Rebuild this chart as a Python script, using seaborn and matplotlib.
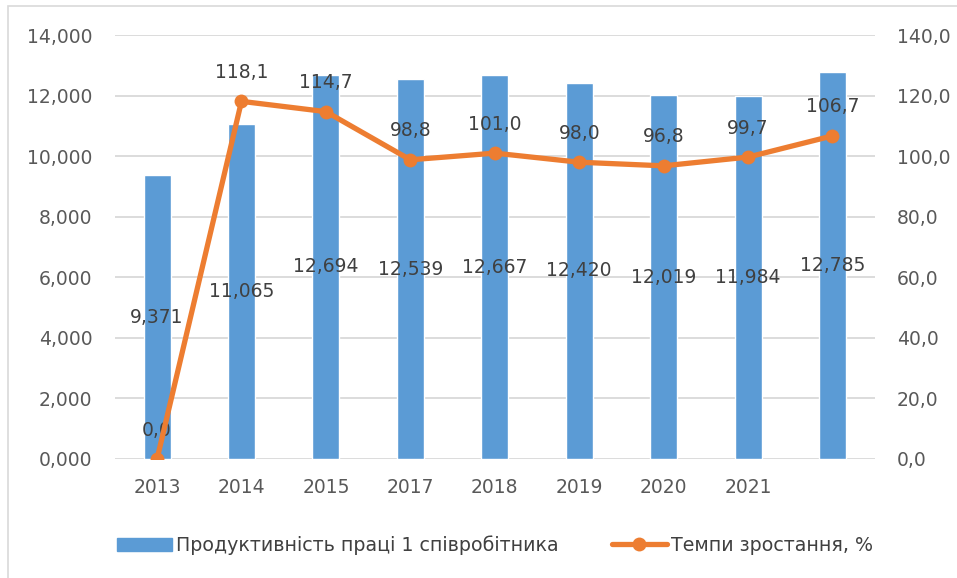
import numpy as np
import pandas as pd
import matplotlib
matplotlib.use('Agg')
import matplotlib.pyplot as plt
import seaborn as sns
from matplotlib.patches import Rectangle
from matplotlib.lines import Line2D

sns.set_style('white')
plt.rcParams['font.family'] = ['DejaVu Sans']

# data
years = ['2013', '2014', '2015', '2017', '2018', '2019', '2020', '2021', '']
productivity = [9.371, 11.065, 12.694, 12.539, 12.667, 12.420, 12.019, 11.984, 12.785]
growth = [0.0, 118.1, 114.7, 98.8, 101.0, 98.0, 96.8, 99.7, 106.7]

bar_name = 'Продуктивність праці 1 співробітника'
line_name = 'Темпи зростання, %'

df = pd.DataFrame({'year': years, 'prod': productivity, 'growth': growth})

blue = '#5B9BD5'
orange = '#ED7D31'
grid_c = '#D9D9D9'
tick_c = '#595959'
lab_c = '#404040'

fig, ax = plt.subplots(figsize=(9.57, 5.78), dpi=100)
fig.subplots_adjust(left=0.120, right=0.914, top=0.9394, bottom=0.2059)

# bars on the left axis
sns.barplot(data=df, x='year', y='prod', order=years, color=blue,
            width=0.32, saturation=1, ax=ax)
ax.set_ylim(0, 14)
ax.set_yticks(np.arange(0, 15, 2))
ax.set_yticklabels([f'{v},000' for v in range(0, 15, 2)])
ax.set_xlim(-0.5, len(years) - 0.5)
ax.grid(axis='y', color=grid_c, lw=1.3)
ax.set_axisbelow(True)
ax.set_xlabel('')
ax.set_ylabel('')
ax.tick_params(axis='y', length=0, pad=16, labelsize=13.5, labelcolor=tick_c)
ax.tick_params(axis='x', length=0, pad=14, labelsize=13.5, labelcolor=tick_c)
for s in ax.spines.values():
    s.set_visible(False)

ax.bar_label(ax.containers[0], labels=[f'{v:.3f}'.replace('.', ',') for v in productivity],
             label_type='center', fontsize=13.5, color=lab_c)

# growth line on the right axis
ax2 = ax.twinx()
sns.lineplot(x=np.arange(len(years)), y=growth, color=orange, lw=3.8,
             marker='o', markersize=10, markeredgewidth=0, ax=ax2, zorder=5)
ax2.set_ylim(0, 140)
ax2.set_yticks(np.arange(0, 141, 20))
ax2.set_yticklabels([f'{v},0' for v in range(0, 141, 20)])
ax2.tick_params(axis='y', length=0, pad=16, labelsize=13.5, labelcolor=tick_c)
for s in ax2.spines.values():
    s.set_visible(False)
ax2.grid(False)
for i, g in enumerate(growth):
    ax2.annotate(f'{g:.1f}'.replace('.', ','), (i, g), xytext=(0, 14),
                 textcoords='offset points', ha='center', va='bottom',
                 fontsize=13.5, color=lab_c)

handles = [Rectangle((0, 0), 1, 1, color=blue),
           Line2D([], [], color=orange, lw=3.8, marker='o', markersize=10, markeredgewidth=0)]
fig.legend(handles, [bar_name, line_name], loc='center', bbox_to_anchor=(0.517, 0.057),
           ncol=2, frameon=False, fontsize=13.7, handlelength=2.9, handletextpad=0.2,
           columnspacing=2.8, labelcolor=lab_c)

# chart border (left and top visible)
fig.patches.append(Rectangle((8 / 957, -0.02), 1.0, 1.0 - 6 / 578 + 0.02,
                             transform=fig.transFigure, fill=False,
                             edgecolor=grid_c, lw=1.2))

fig.savefig('out.png', dpi=100)
